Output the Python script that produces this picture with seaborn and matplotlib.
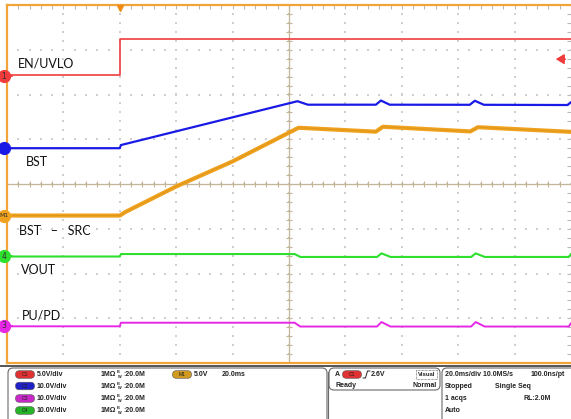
import numpy as np
import pandas as pd
import matplotlib
matplotlib.use("Agg")
import matplotlib.pyplot as plt
import seaborn as sns
from matplotlib.patches import FancyBboxPatch, Rectangle
from matplotlib.lines import Line2D

# ---------------- waveform data (time in ms, values in volts) ----------------
time_en = [-40, 0, 0, 160]
en_uvlo = [0.15, 0.15, 4.13, 4.13]

time_bst = [-40, 0, 0.4, 63.0, 66.7, 90.8, 92.6, 95.7, 124.1, 125.9, 129.1, 158.8, 160]
bst = [0.0, 0.0, 0.7, 10.5, 9.72, 9.72, 10.65, 9.72, 9.7, 10.6, 9.7, 9.65, 10.3]

time_bst_src = [-40, 0, 2, 20, 40, 63.4, 90.8, 93.3, 124.3, 127.0, 160]
bst_src = [0.05, 0.05, 0.45, 3.3, 6.1, 9.86, 9.42, 9.97, 9.45, 9.92, 9.4]

time_out = [-40, 0, 0.4, 62, 64, 91.2, 92.8, 96.0, 124.6, 126.2, 129.4, 159.2, 160]
vout = [-0.1, -0.1, 0.45, 0.45, -0.2, -0.2, 0.6, -0.2, -0.2, 0.6, -0.2, -0.2, 0.5]
pu_pd = [-0.1, -0.1, 0.7, 0.7, -0.15, -0.15, 0.85, -0.15, -0.15, 0.85, -0.15, -0.15, 0.6]

channel_names = ["EN/UVLO", "BST", "BST   \u2013   SRC", "VOUT", "PU/PD"]
volts_per_div = [5.0, 10.0, 5.0, 10.0, 10.0]
ground_div = [2.41, 0.80, -0.715, -1.61, -3.17]
channel_tags = ["1", "", "M1", "4", "3"]
channel_colors = ["#f03c3c", "#1a1ae6", "#f0a21e", "#2ee02e", "#e628e6"]
line_widths = [1.2, 1.6, 3.0, 1.5, 1.4]

TIME_DIV = 20.0          # ms/div
T_LEFT, T_RIGHT = -40, 160

W, H = 571, 419
sns.set_style("white")
fig = plt.figure(figsize=(W / 100, H / 100), dpi=100)
fig.patch.set_facecolor("white")

# scope screen: 10 x 8 divisions
L, R, T, B = 7, 571, 5, 363
ax = fig.add_axes([L / W, 1 - B / H, (R - L) / W, (B - T) / H])
ax.set_xlim(T_LEFT, T_RIGHT)
ax.set_ylim(-4, 4)
ax.set_facecolor("white")

ORANGE = "#f2a43a"
for side in ["left", "top", "bottom"]:
    ax.spines[side].set_color(ORANGE)
    ax.spines[side].set_linewidth(1.6)
ax.spines["right"].set_visible(False)
ax.set_xticks(np.arange(T_LEFT, T_RIGHT + 1, TIME_DIV))
ax.set_yticks(np.arange(-4, 5, 1))
ax.set_xticks(np.arange(T_LEFT, T_RIGHT + 0.1, TIME_DIV / 5), minor=True)
ax.set_yticks(np.arange(-4, 4.01, 0.2), minor=True)
ax.tick_params(which="both", direction="in", length=3.2, width=0.8,
               color="#b9b9b9", top=True, right=True,
               labelbottom=False, labelleft=False)

# dotted graticule
minor_t = np.arange(T_LEFT, T_RIGHT + 0.1, TIME_DIV / 5)
minor_v = np.arange(-4, 4.01, 0.2)
for tx in np.arange(T_LEFT + TIME_DIV, T_RIGHT, TIME_DIV):
    ax.scatter(np.full_like(minor_v, tx), minor_v, s=1.5, marker="s",
               color="#cfcfcf", linewidths=0, zorder=1)
for vy in np.arange(-3, 4, 1):
    ax.scatter(minor_t, np.full_like(minor_t, vy), s=1.5, marker="s",
               color="#cfcfcf", linewidths=0, zorder=1)

# centre cross with fine ticks
CROSS = "#c4b598"
t_mid = (T_LEFT + T_RIGHT) / 2
ax.axvline(t_mid, color=CROSS, lw=0.9, zorder=1.5)
ax.axhline(0, color=CROSS, lw=0.9, zorder=1.5)
ax.plot(np.full_like(minor_v, t_mid), minor_v, ls="none", marker="_",
        ms=5, mew=0.8, color=CROSS, zorder=1.5)
ax.plot(minor_t, np.zeros_like(minor_t), ls="none", marker="|",
        ms=5, mew=0.8, color=CROSS, zorder=1.5)

# traces
series = [(time_en, en_uvlo), (time_bst, bst), (time_bst_src, bst_src),
          (time_out, vout), (time_out, pu_pd)]
for i, (tt, vv) in enumerate(series):
    df = pd.DataFrame({"t": tt, "div": ground_div[i] + np.array(vv) / volts_per_div[i]})
    sns.lineplot(data=df, x="t", y="div", estimator=None, sort=False,
                 color=channel_colors[i], lw=line_widths[i], ax=ax, zorder=3 + i * 0.1)
    if i == 2:
        sns.lineplot(data=df, x="t", y="div", estimator=None, sort=False,
                     color="#c98a18", lw=0.7, alpha=0.45, ax=ax, zorder=3.3)
ax.set_xlabel("")
ax.set_ylabel("")

# channel ground markers on the left edge
t_marker = T_LEFT + (4 - L) * (T_RIGHT - T_LEFT) / (R - L)
for i in range(5):
    ax.plot([t_marker], [ground_div[i]], marker="o", ms=8.5, color=channel_colors[i],
            mec=channel_colors[i], clip_on=False, zorder=6)
    ax.text(t_marker, ground_div[i], channel_tags[i], ha="center", va="center",
            fontsize=4.5 if len(channel_tags[i]) > 1 else 5.5, color="#303030",
            clip_on=False, zorder=7)
    ax.annotate("", xy=(t_marker + 4.2, ground_div[i]), xytext=(t_marker + 1.6, ground_div[i]),
                arrowprops=dict(arrowstyle="-|>", color=channel_colors[i], lw=0.7,
                                mutation_scale=4), zorder=6, annotation_clip=False)

# trigger position and trigger level
ax.plot([0], [3.93], marker="v", ms=5, color="#f08c14", clip_on=False, zorder=8)
ax.annotate("", xy=(153.6, 2.79), xytext=(159.0, 2.79),
            arrowprops=dict(arrowstyle="-|>,head_length=0.5,head_width=0.3",
                            color="#f03c3c", lw=1.1, mutation_scale=10),
            zorder=8, annotation_clip=False)

# overlay in pixel coordinates for labels and status panel
ov = fig.add_axes([0, 0, 1, 1])
ov.set_xlim(0, W)
ov.set_ylim(H, 0)
ov.axis("off")
ov.patch.set_alpha(0)

label_pos = [(18, 64), (26, 162), (19, 231), (21, 270), (22, 315)]
for name, (px, py) in zip(channel_names, label_pos):
    ov.text(px, py, name, ha="left", va="center", fontsize=9.0,
            family=["Lato", "DejaVu Sans"], color="#111111")

# status panel
ov.plot([0, W], [366, 366], color="#555555", lw=1.4)
ov.add_patch(FancyBboxPatch((8, 368), 319, 60, boxstyle="round,pad=0,rounding_size=5",
                            fc="white", ec="#6a6a6a", lw=0.8))
ov.add_patch(FancyBboxPatch((329, 368), 111, 22, boxstyle="round,pad=0,rounding_size=5",
                            fc="white", ec="#6a6a6a", lw=0.8))
ov.plot([328, 328], [372, 419], color="#6a6a6a", lw=0.8)
ov.add_patch(FancyBboxPatch((442, 368), 140, 60, boxstyle="round,pad=0,rounding_size=5",
                            fc="white", ec="#6a6a6a", lw=0.8))

PF = dict(fontsize=5.0, fontweight="bold", family=["Liberation Sans", "DejaVu Sans"],
          color="#222222", va="center")
SMALL = dict(PF, fontsize=2.8)

def badge(cx, cy, label, color):
    ov.add_patch(FancyBboxPatch((cx - 9.5, cy - 3.8), 19, 7.6,
                                boxstyle="round,pad=0,rounding_size=3.8",
                                fc=color, ec="#555555", lw=0.4))
    ov.text(cx, cy, label, ha="center", va="center", fontsize=3.6,
            color="#202020", family=["Liberation Sans", "DejaVu Sans"])

rows = [374.5, 386, 398.5, 410.5]
badge_colors = ["#e03232", "#2020c8", "#c828c8", "#28b428"]
scales_txt = ["5.0V/div", "10.0V/div", "10.0V/div", "10.0V/div"]
for k in range(4):
    badge(25, rows[k], f"C{k + 1}", badge_colors[k])
    ov.text(37, rows[k], scales_txt[k], ha="left", **PF)
    ov.text(101, rows[k], "1M\u03a9", ha="left", **PF)
    ov.text(116.5, rows[k] - 2.3, "B", ha="left", **SMALL)
    ov.text(118.0, rows[k] + 2.3, "W", ha="left", **SMALL)
    ov.text(123, rows[k], ":20.0M", ha="left", **PF)
badge(182, rows[0], "M1", "#d09a20")
ov.text(194, rows[0], "5.0V", ha="left", **PF)
ov.text(222, rows[0], "20.0ms", ha="left", **PF)

# trigger box
ov.text(335, rows[0], "A", ha="left", **PF)
badge(352, rows[0], "C1", "#e03232")
ov.add_line(Line2D([363, 365.5, 367.5, 370], [378, 378, 371, 371], color="#222222", lw=0.7))
ov.text(371, rows[0], "2.6V", ha="left", **PF)
ov.add_patch(Rectangle((416, 370), 21, 8.5, fill=False, ec="#444444", lw=0.5, ls=(0, (1, 1))))
ov.text(426.5, rows[0], "Visual", ha="center", **dict(PF, fontsize=4.3))
ov.text(335, 385.5, "Ready", ha="left", **PF)
ov.text(437, 385.5, "Normal", ha="right", **PF)

# acquisition box
ov.text(445, rows[0], "20.0ms/div 10.0MS/s", ha="left", **PF)
ov.text(565, rows[0], "100.0ns/pt", ha="right", **PF)
ov.text(445, 386, "Stopped", ha="left", **PF)
ov.text(495, 386, "Single Seq", ha="left", **PF)
ov.text(445, 398.5, "1 acqs", ha="left", **PF)
ov.text(523, 398.5, "RL:2.0M", ha="left", **PF)
ov.text(445, 410.5, "Auto", ha="left", **PF)

fig.savefig("out.png", dpi=100, facecolor="white")
